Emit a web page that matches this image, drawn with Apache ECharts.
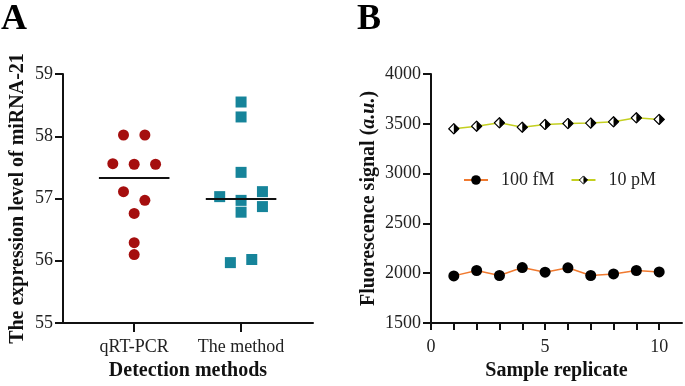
<!DOCTYPE html>
<html>
<head>
<meta charset="utf-8">
<script src="https://cdn.jsdelivr.net/npm/echarts@6/dist/echarts.min.js"></script>
<style>
  html, body { margin: 0; padding: 0; background: #fff; }
  #chart { width: 685px; height: 386px; }
</style>
</head>
<body>
<div id="chart"></div>
<script>
// panel A: expression level of miRNA-21
var methods = ['qRT-PCR', 'The method'];
var qrtValues = [58.02, 58.02, 57.56, 57.55, 57.55, 57.11, 56.97, 56.76, 56.29, 56.10];
var methodValues = [58.55, 58.31, 57.42, 57.03, 56.97, 57.11, 56.78, 56.87, 55.97, 56.02];
// horizontal spread of the dots inside each column
var qrtJitter = [-0.1, 0.1, -0.2, 0, 0.2, -0.1, 0.1, 0, 0, 0];
var methodJitter = [0, 0, 0, -0.2, 0, 0.2, 0, 0.2, -0.1, 0.1];

// panel B: fluorescence signal for each replicate
var replicates = [1, 2, 3, 4, 5, 6, 7, 8, 9, 10];
var signal100fM = [1973, 2027, 1977, 2057, 2010, 2054, 1977, 1993, 2027, 2013];
var signal10pM = [3450, 3476, 3510, 3466, 3493, 3503, 3507, 3520, 3560, 3544];
var replicateTicks = [0, 1, 2, 3, 4, 5, 6, 7, 8, 9, 10];

var serif = 'Liberation Serif';

function median (arr) {
    var s = arr.slice().sort(function (a, b) { return a - b; });
    var m = Math.floor(s.length / 2);
    return s.length % 2 ? s[m] : (s[m - 1] + s[m]) / 2;
}

function scatterData (vals, jitter, pos) {
    return vals.map(function (v, i) { return [pos + jitter[i], v]; });
}

// half white / half black diamond
var diamondSvg = '<svg xmlns="http://www.w3.org/2000/svg" width="20" height="20" viewBox="0 0 20 20">' +
    '<polygon points="10,1.5 1.5,10 10,18.5" fill="#ffffff"/>' +
    '<polygon points="10,1.5 18.5,10 10,18.5" fill="#000000"/>' +
    '<polygon points="10,1.5 18.5,10 10,18.5 1.5,10" fill="none" stroke="#000" stroke-width="2"/></svg>';
var diamondSymbol = 'image://data:image/svg+xml;charset=utf-8,' + encodeURIComponent(diamondSvg);

var axisLine = { show: true, lineStyle: { color: '#111', width: 2 } };
var labelStyle = { fontFamily: serif, fontSize: 18, color: '#222' };
var titleStyle = { fontFamily: serif, fontSize: 20, fontWeight: 'bold', color: '#111' };
var tickStyle = { width: 2, color: '#111' };

var myChart = echarts.init(document.getElementById('chart'));
var option = {
    backgroundColor: '#fff',
    animation: false,
    title: [
        { text: 'A', left: 1, top: 2, padding: 0, textStyle: { fontFamily: serif, fontSize: 36, fontWeight: 'bold', color: '#000' } },
        { text: 'B', left: 357, top: 2, padding: 0, textStyle: { fontFamily: serif, fontSize: 36, fontWeight: 'bold', color: '#000' } }
    ],
    grid: [
        { left: 63, top: 74, width: 250, height: 249 },
        { left: 431, top: 74, width: 251, height: 249 }
    ],
    legend: {
        left: 458,
        top: 166,
        itemWidth: 24,
        itemHeight: 12,
        itemGap: 16,
        data: ['100 fM', '10 pM'],
        textStyle: { fontFamily: serif, fontSize: 18, color: '#222', padding: [0, 0, 0, 8] }
    },
    xAxis: [
        {
            gridIndex: 0,
            type: 'value',
            min: 0.334,
            max: 2.673,
            name: 'Detection methods',
            nameLocation: 'middle',
            nameGap: 37,
            nameTextStyle: titleStyle,
            axisLine: axisLine,
            axisTick: { show: true, length: 9, lineStyle: tickStyle, customValues: [1, 2] },
            axisLabel: Object.assign({
                margin: 15,
                customValues: [1, 2],
                formatter: function (v) { return methods[Math.round(v) - 1]; }
            }, labelStyle),
            splitLine: { show: false }
        },
        {
            gridIndex: 1,
            type: 'value',
            min: 0,
            max: 11,
            name: 'Sample replicate',
            nameLocation: 'middle',
            nameGap: 37,
            nameTextStyle: titleStyle,
            axisLine: axisLine,
            axisTick: { show: true, length: 7, lineStyle: tickStyle, customValues: replicateTicks },
            axisLabel: Object.assign({
                margin: 15,
                customValues: [0, 5, 10]
            }, labelStyle),
            splitLine: { show: false }
        }
    ],
    yAxis: [
        {
            gridIndex: 0,
            type: 'value',
            min: 55,
            max: 59,
            interval: 1,
            name: 'The expression level of miRNA-21',
            nameLocation: 'middle',
            nameGap: 35,
            nameTextStyle: titleStyle,
            axisLine: axisLine,
            axisTick: { show: true, length: 8, lineStyle: tickStyle },
            axisLabel: Object.assign({ margin: 10 }, labelStyle),
            splitLine: { show: false }
        },
        {
            gridIndex: 1,
            type: 'value',
            min: 1500,
            max: 4000,
            interval: 500,
            name: '{b|Fluorescence signal (}{i|a.u.}{b|)}',
            nameLocation: 'middle',
            nameGap: 52,
            nameTextStyle: {
                rich: {
                    b: titleStyle,
                    i: Object.assign({}, titleStyle, { fontStyle: 'italic' })
                }
            },
            axisLine: axisLine,
            axisTick: { show: true, length: 8, lineStyle: tickStyle },
            axisLabel: Object.assign({
                margin: 10,
                formatter: function (v) { return String(v); }
            }, labelStyle),
            splitLine: { show: false }
        }
    ],
    series: [
        {
            name: 'qRT-PCR',
            type: 'scatter',
            xAxisIndex: 0,
            yAxisIndex: 0,
            symbol: 'circle',
            symbolSize: 11,
            itemStyle: { color: '#a50e0e', opacity: 1 },
            data: scatterData(qrtValues, qrtJitter, 1),
            markLine: {
                silent: true,
                symbol: 'none',
                label: { show: false },
                lineStyle: { color: '#111', width: 2, type: 'solid' },
                data: [[
                    { coord: [1 - 0.33, median(qrtValues)] },
                    { coord: [1 + 0.33, median(qrtValues)] }
                ]]
            },
            z: 3
        },
        {
            name: 'The method',
            type: 'scatter',
            xAxisIndex: 0,
            yAxisIndex: 0,
            symbol: 'rect',
            symbolSize: 11,
            itemStyle: { color: '#16849a', opacity: 1 },
            data: scatterData(methodValues, methodJitter, 2),
            markLine: {
                silent: true,
                symbol: 'none',
                label: { show: false },
                lineStyle: { color: '#111', width: 2, type: 'solid' },
                data: [[
                    { coord: [2 - 0.33, median(methodValues)] },
                    { coord: [2 + 0.33, median(methodValues)] }
                ]]
            },
            z: 3
        },
        {
            name: '100 fM',
            type: 'line',
            xAxisIndex: 1,
            yAxisIndex: 1,
            symbol: 'circle',
            symbolSize: 11,
            lineStyle: { color: '#f07a30', width: 1.5 },
            itemStyle: { color: '#000', borderWidth: 0 },
            data: replicates.map(function (r, i) { return [r, signal100fM[i]]; })
        },
        {
            name: '10 pM',
            type: 'line',
            xAxisIndex: 1,
            yAxisIndex: 1,
            symbol: diamondSymbol,
            symbolSize: 12,
            lineStyle: { color: '#c4d020', width: 1.5 },
            itemStyle: { color: '#c4d020' },
            data: replicates.map(function (r, i) { return [r, signal10pM[i]]; })
        }
    ]
};
myChart.setOption(option);
</script>
</body>
</html>
